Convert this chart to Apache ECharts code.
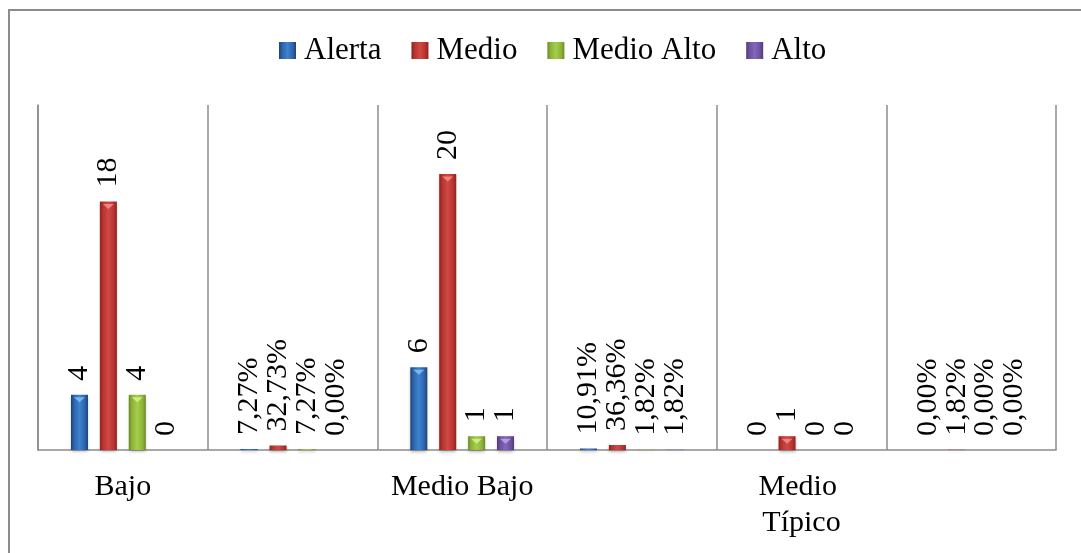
<!DOCTYPE html>
<html>
<head>
<meta charset="utf-8">
<script src="https://cdn.jsdelivr.net/npm/echarts@6/dist/echarts.min.js"></script>
<style>
  html, body { margin: 0; padding: 0; background: #ffffff; }
  #chart { width: 1081px; height: 553px; }
</style>
</head>
<body>
<div id="chart"></div>
<script>
// Columns: each level is followed by a column holding its shares of the total
const categories = ['Bajo', '', 'Medio Bajo', '', 'Medio Típico', ''];
const shareColumn = [false, true, false, true, false, true];

const seriesNames = ['Alerta', 'Medio', 'Medio Alto', 'Alto'];
const alerta    = [4, 0.0727, 6, 0.1091, 0, 0];
const medio     = [18, 0.3273, 20, 0.3636, 1, 0.0182];
const medioAlto = [4, 0.0727, 1, 0.0182, 0, 0];
const alto      = [0, 0, 1, 0.0182, 0, 0];
const seriesValues = [alerta, medio, medioAlto, alto];

// [edge, body, highlight, bevel tip]
const palettes = [
  ['#1c4278', '#2c64aa', '#3f82cf', '#7fbdf2'],
  ['#8a2320', '#b8322e', '#d04a45', '#f28a86'],
  ['#6a8a25', '#8cb339', '#a6cd4c', '#d4f08a'],
  ['#4f3a78', '#6b519e', '#8467b8', '#b9a3e6']
];

const FONT = '"Liberation Serif", "Times New Roman", serif';

function barGradient(p) {
  return new echarts.graphic.LinearGradient(0, 0, 1, 0, [
    { offset: 0, color: p[0] },
    { offset: 0.18, color: p[1] },
    { offset: 0.5, color: p[2] },
    { offset: 0.82, color: p[1] },
    { offset: 1, color: p[0] }
  ]);
}

function labelText(params) {
  const v = params.value;
  if (shareColumn[params.dataIndex]) {
    return (v * 100).toFixed(2).replace('.', ',') + '%';
  }
  return String(v);
}

const barSeries = seriesValues.map((vals, i) => ({
  name: seriesNames[i],
  type: 'bar',
  data: vals,
  barWidth: 17,
  barGap: '70%',
  z: 2,
  itemStyle: {
    color: barGradient(palettes[i]),
    shadowColor: 'rgba(0,0,0,0.28)',
    shadowBlur: 3,
    shadowOffsetY: 2
  },
  label: {
    show: true,
    position: 'top',
    rotate: 90,
    align: 'left',
    verticalAlign: 'middle',
    distance: 14,
    fontFamily: FONT,
    fontSize: 30,
    color: '#000000',
    formatter: labelText
  }
}));

// Small bevel tips on top of the taller bars
const tipSeries = seriesValues.map((vals, i) => ({
  name: seriesNames[i],
  type: 'pictorialBar',
  data: vals.map(v => (v >= 0.5 ? v : { value: v, symbol: 'none' })),
  barWidth: 17,
  barGap: '70%',
  symbol: 'triangle',
  symbolRotate: 180,
  symbolSize: [11, 5],
  symbolPosition: 'end',
  symbolOffset: [0, '50%'],
  z: 4,
  silent: true,
  itemStyle: { color: palettes[i][3], opacity: 0.9 }
}));

const chart = echarts.init(document.getElementById('chart'), null, { renderer: 'canvas' });

chart.setOption({
  animation: false,
  backgroundColor: '#ffffff',
  graphic: [{
    type: 'rect',
    shape: { x: 9, y: 10, width: 1100, height: 600 },
    style: { fill: 'none', stroke: '#8c8c8c', lineWidth: 2 },
    silent: true,
    z: 0
  }],
  legend: {
    data: seriesNames,
    left: 279,
    top: 35,
    padding: 0,
    icon: 'rect',
    itemWidth: 17,
    itemHeight: 17,
    itemGap: 30,
    textStyle: {
      fontFamily: FONT,
      fontSize: 31,
      color: '#000000',
      padding: [0, 0, 0, 3]
    }
  },
  grid: {
    left: 38,
    right: 25,
    top: 105,
    bottom: 103,
    containLabel: false
  },
  xAxis: {
    type: 'category',
    data: categories,
    boundaryGap: true,
    axisLine: { show: true, lineStyle: { color: '#8c8c8c', width: 1.5 } },
    axisTick: { show: false },
    splitLine: { show: true, interval: 0, lineStyle: { color: '#8c8c8c', width: 1.5 } },
    axisLabel: {
      interval: 0,
      margin: 19,
      fontFamily: FONT,
      fontSize: 30,
      lineHeight: 36,
      color: '#000000',
      width: 150,
      overflow: 'break'
    }
  },
  yAxis: {
    type: 'value',
    min: 0,
    max: 25,
    axisLine: { show: true, lineStyle: { color: '#8c8c8c', width: 1.5 } },
    axisTick: { show: false },
    axisLabel: { show: false },
    splitLine: { show: false }
  },
  series: barSeries.concat(tipSeries)
});
</script>
</body>
</html>
